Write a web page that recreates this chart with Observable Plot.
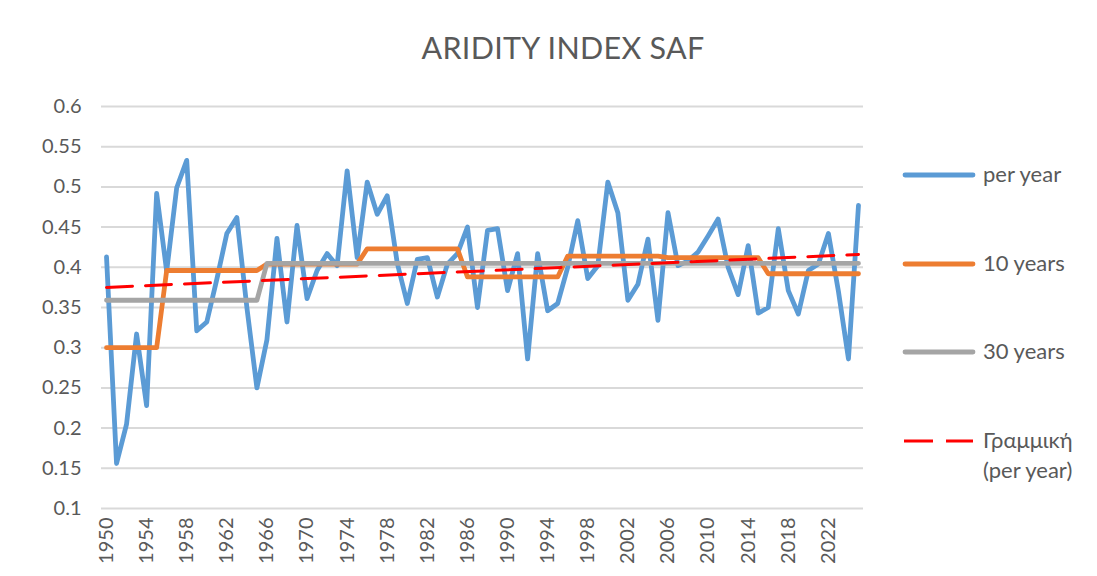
<!DOCTYPE html>
<html><head><meta charset="utf-8">
<script src="https://cdn.jsdelivr.net/npm/d3@7"></script>
<script src="https://cdn.jsdelivr.net/npm/@observablehq/plot@0.6"></script>
<style>
body{margin:0;background:#fff;}
#wrap{position:relative;width:1097px;height:576px;font-family:Lato,"Open Sans",sans-serif;color:#595959;overflow:hidden;}
#title{position:absolute;left:0;width:1126px;top:29px;text-align:center;font-size:30.5px;letter-spacing:0.3px;}
#legend{position:absolute;left:0;top:0;}
.lt{position:absolute;left:983px;font-size:22px;line-height:30px;white-space:nowrap;}
</style></head><body><div id="wrap"><div id="title">ARIDITY INDEX SAF</div></div>
<script>
// ---- data ----
const firstYear = 1950;
const lastYear = 2025;
const perYear = [
  0.413, 0.156, 0.205, 0.317, 0.228, 0.492, 0.395, 0.499, 0.533, 0.321,
  0.332, 0.385, 0.442, 0.462, 0.350, 0.250, 0.310, 0.436, 0.332, 0.452,
  0.361, 0.396, 0.417, 0.402, 0.520, 0.412, 0.506, 0.466, 0.489, 0.405,
  0.355, 0.410, 0.412, 0.363, 0.404, 0.417, 0.450, 0.350, 0.446, 0.448,
  0.371, 0.417, 0.286, 0.417, 0.346, 0.355, 0.400, 0.458, 0.386, 0.402,
  0.506, 0.468, 0.359, 0.379, 0.435, 0.334, 0.468, 0.402, 0.408, 0.419,
  0.439, 0.460, 0.400, 0.366, 0.427, 0.343, 0.350, 0.448, 0.371, 0.342,
  0.396, 0.404, 0.442, 0.370, 0.286, 0.477
];
const tenYearStarts = [1950, 1956, 1966, 1976, 1986, 1996, 2006, 2016];
const tenYearValues = [0.300, 0.396, 0.404, 0.423, 0.388, 0.414, 0.412, 0.392];
const thirtyYearStarts = [1950, 1966];
const thirtyYearValues = [0.359, 0.405];
const trendYears = [1950, 2025];
const trendValues = [0.375, 0.416];
const xTickYears = [1950,1954,1958,1962,1966,1970,1974,1978,1982,1986,1990,1994,1998,2002,2006,2010,2014,2018,2022];
const yTickValues = [0.1,0.15,0.2,0.25,0.3,0.35,0.4,0.45,0.5,0.55,0.6];
const seriesNames = ["per year", "10 years", "30 years"];
const trendName = ["Γραμμική", "(per year)"];
const colors = {blue:"#5B9BD5", orange:"#ED7D31", gray:"#A5A5A5", red:"#FF0000"};

// ---- build tables ----
const years = d3.range(firstYear, lastYear + 1);
const yearly = years.map((y, i) => ({year: y, value: perYear[i]}));
function expand(starts, values) {
  return years.map(y => {
    let k = 0;
    for (let j = 0; j < starts.length; j++) if (y >= starts[j]) k = j;
    return {year: y, value: values[k]};
  });
}
const ten = expand(tenYearStarts, tenYearValues);
const thirty = expand(thirtyYearStarts, thirtyYearValues);
const trend = trendYears.map((y, i) => ({year: y, value: trendValues[i]}));

const chart = Plot.plot({
  width: 1097,
  height: 576,
  marginLeft: 101,
  marginRight: 234,
  marginTop: 106,
  marginBottom: 68,
  style: {fontFamily: "Lato, 'Open Sans', sans-serif", fontSize: "20px", color: "#595959", background: "transparent"},
  x: {domain: [firstYear - 0.5, lastYear + 0.5]},
  y: {domain: [0.1, 0.6]},
  marks: [
    Plot.gridY(yTickValues, {stroke: "#d9d9d9", strokeOpacity: 1, strokeWidth: 2}),
    Plot.axisY(yTickValues, {tickSize: 0, tickPadding: 20, tickFormat: d => String(d), fill: "#595959", fontSize: 20, label: null}),
    Plot.axisX(xTickYears, {tickSize: 0, tickPadding: 9, tickRotate: -90, tickFormat: d => String(d), fill: "#595959", fontSize: 20, label: null}),
    Plot.line(yearly, {x: "year", y: "value", stroke: colors.blue, strokeWidth: 4.8, strokeLinejoin: "round", strokeLinecap: "round"}),
    Plot.line(ten, {x: "year", y: "value", stroke: colors.orange, strokeWidth: 4.8, strokeLinejoin: "round", strokeLinecap: "round"}),
    Plot.line(thirty, {x: "year", y: "value", stroke: colors.gray, strokeWidth: 4.8, strokeLinejoin: "round", strokeLinecap: "round"}),
    Plot.line(trend, {x: "year", y: "value", stroke: colors.red, strokeWidth: 3, strokeDasharray: "26,13"})
  ]
});
const wrap = document.getElementById("wrap");
chart.style.position = "absolute";
chart.style.left = "0px";
chart.style.top = "0px";
wrap.appendChild(chart);

// ---- legend ----
const ns = "http://www.w3.org/2000/svg";
const lsvg = document.createElementNS(ns, "svg");
lsvg.setAttribute("width", 1097);
lsvg.setAttribute("height", 576);
lsvg.setAttribute("id", "legend");
lsvg.style.position = "absolute"; lsvg.style.left = "0"; lsvg.style.top = "0";
const legendItems = [
  {name: seriesNames[0], color: colors.blue, y: 175, dash: null, w: 4.8},
  {name: seriesNames[1], color: colors.orange, y: 264, dash: null, w: 4.8},
  {name: seriesNames[2], color: colors.gray, y: 352, dash: null, w: 4.8},
  {name: trendName[0], color: colors.red, y: 441, dash: "29,13", w: 3}
];
legendItems.forEach(it => {
  const l = document.createElementNS(ns, "line");
  l.setAttribute("x1", it.dash ? 904 : 905); l.setAttribute("x2", 973);
  l.setAttribute("y1", it.y); l.setAttribute("y2", it.y);
  l.setAttribute("stroke", it.color); l.setAttribute("stroke-width", it.w);
  l.setAttribute("stroke-linecap", it.dash ? "butt" : "round");
  if (it.dash) l.setAttribute("stroke-dasharray", it.dash);
  lsvg.appendChild(l);
  const t = document.createElement("div");
  t.className = "lt";
  t.style.top = (it.y - 16) + "px";
  t.textContent = it.name;
  wrap.appendChild(t);
});
const t2 = document.createElement("div");
t2.className = "lt"; t2.style.top = (441 + 14) + "px"; t2.textContent = trendName[1];
wrap.appendChild(t2);
wrap.appendChild(lsvg);
</script></body></html>
